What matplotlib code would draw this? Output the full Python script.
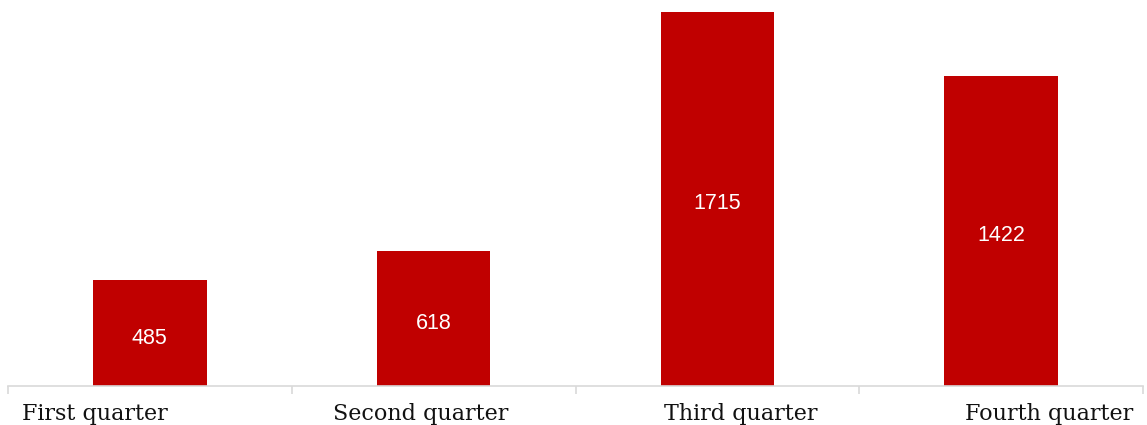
import matplotlib
matplotlib.use("Agg")
import matplotlib.pyplot as plt

quarters = ["First quarter", "Second quarter", "Third quarter", "Fourth quarter"]
values = [485, 618, 1715, 1422]

# label centres are not under the bars in the original, shift them a bit
label_shift = [-0.194, -0.046, 0.081, 0.169]

W, H = 1147, 425
fig = plt.figure(figsize=(W / 100, H / 100), dpi=100)
ax = fig.add_axes([8 / W, 1 - 386 / H, (1143 - 8) / W, 386 / H])

x = range(len(values))
bars = ax.bar(x, values, width=0.40, color="#C00000", zorder=2)
ax.set_xlim(-0.5, len(values) - 0.5)
ax.set_ylim(0, 1770)

for b, v in zip(bars, values):
    ax.annotate(str(v), (b.get_x() + b.get_width() / 2, v / 2),
                xytext=(0, -7.5), textcoords="offset points", color="white",
                ha="center", va="baseline", fontsize=15.5, family="Liberation Sans")

for s in ["top", "right", "left"]:
    ax.spines[s].set_visible(False)
ax.spines["bottom"].set_color("#D9D9D9")
ax.spines["bottom"].set_linewidth(1.2)
ax.set_yticks([])
ax.set_xticks([i - 0.5 for i in range(len(values) + 1)])
ax.set_xticklabels([])
ax.tick_params(axis="x", length=6, color="#D9D9D9", width=1.2)

for i, (q, dx) in enumerate(zip(quarters, label_shift)):
    xf = (8 + (i + dx + 0.5) * 283.75) / W
    fig.text(xf, 1 - 420 / H, q, ha="center", va="baseline",
             fontsize=16, family="DejaVu Serif", color="#111111")

fig.savefig("out.png", dpi=100)
